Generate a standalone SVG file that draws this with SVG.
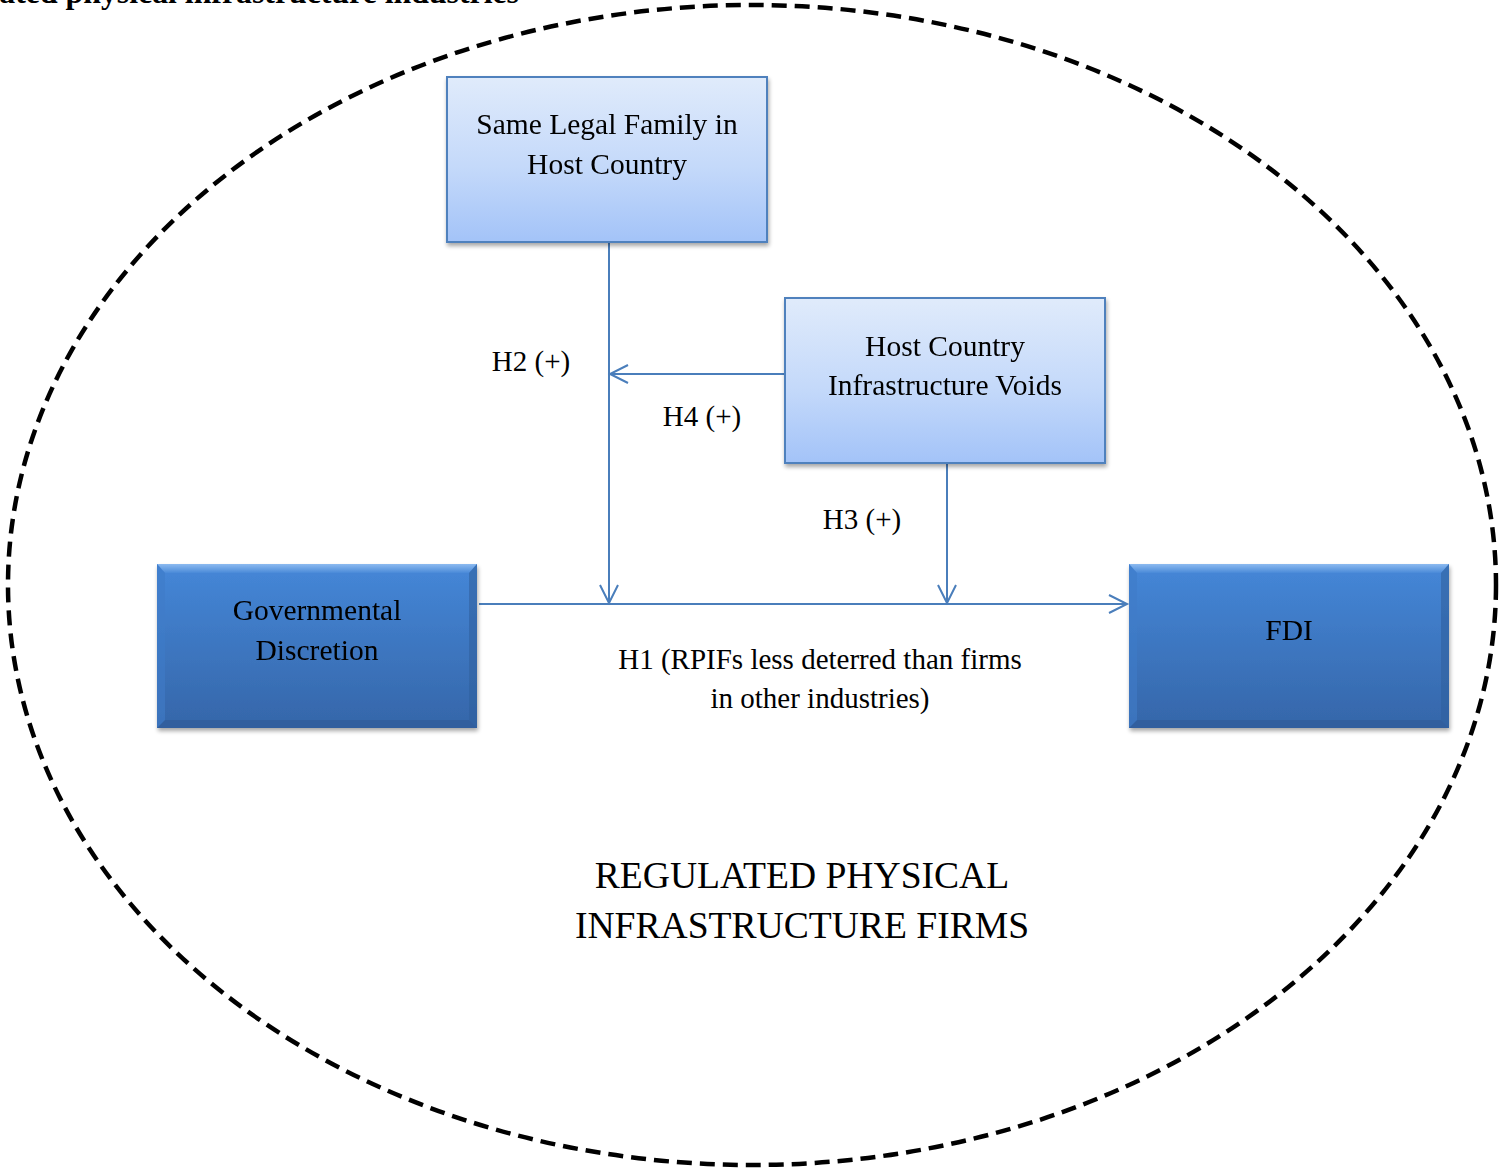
<svg xmlns="http://www.w3.org/2000/svg" width="1501" height="1171" viewBox="0 0 1501 1171">
<style>
.t{font-family:"Liberation Serif","Times New Roman",serif;fill:#000;text-anchor:middle}
.n{font-size:29.5px}
.lab{font-size:29px}
.big{font-size:37.6px}
.light{fill:url(#gl);stroke:#4f81bd;stroke-width:2}
.dark{fill:url(#gd)}
.c{stroke:#4a7ebb;stroke-width:2;fill:none;marker-end:url(#arr)}
</style>
<defs>
<linearGradient id="gl" x1="0" y1="0" x2="0" y2="1">
<stop offset="0" stop-color="#e0ebfb"/><stop offset="0.55" stop-color="#c4d9fa"/><stop offset="1" stop-color="#a3c3f8"/>
</linearGradient>
<linearGradient id="gd" x1="0" y1="0" x2="0" y2="1">
<stop offset="0" stop-color="#4587d8"/><stop offset="1" stop-color="#3566a9"/>
</linearGradient>
<linearGradient id="gt" x1="0" y1="0" x2="0" y2="1">
<stop offset="0" stop-color="#8cbaf0"/><stop offset="1" stop-color="#4a8ad8"/>
</linearGradient>
<filter id="sh" x="-10%" y="-10%" width="120%" height="130%">
<feGaussianBlur in="SourceAlpha" stdDeviation="2"/><feOffset dx="1" dy="3"/>
<feComponentTransfer><feFuncA type="linear" slope="0.35"/></feComponentTransfer>
<feMerge><feMergeNode/><feMergeNode in="SourceGraphic"/></feMerge>
</filter>
<marker id="arr" markerUnits="userSpaceOnUse" markerWidth="24" markerHeight="24" viewBox="-20 -12 24 24" refX="0" refY="0" orient="auto">
<path d="M-18,-9 L0,0 L-18,9" fill="none" stroke="#4a7ebb" stroke-width="2"/>
</marker>
</defs>
<text x="519" y="3" font-family="Liberation Serif, serif" font-weight="bold" font-size="31.8" text-anchor="end">ated physical infrastructure industries</text>
<ellipse cx="752" cy="585" rx="744" ry="580" fill="none" stroke="#000" stroke-width="4.5" stroke-dasharray="15 8"/>
<g id="connectors">
<path class="c" d="M479,604 H1127"/>
<path class="c" d="M609,243 V603"/>
<path class="c" d="M785,374 H610"/>
<path class="c" d="M947,464 V603"/>
</g>
<g id="n-legal" filter="url(#sh)">
<rect class="light" x="447" y="77" width="320" height="165"/>
<text class="t n" x="607" y="134">Same Legal Family in</text>
<text class="t n" x="607" y="174">Host Country</text>
</g>
<g id="n-voids" filter="url(#sh)">
<rect class="light" x="785" y="298" width="320" height="165"/>
<text class="t n" x="945" y="356">Host Country</text>
<text class="t n" x="945" y="395">Infrastructure Voids</text>
</g>
<g id="n-gov" filter="url(#sh)">
<rect class="dark" x="157" y="564" width="320" height="164"/>
<polygon points="157,564 477,564 469,573 165,573" fill="url(#gt)"/>
<polygon points="157,728 477,728 469,720 165,720" fill="#2f5d9b" opacity="0.8"/>
<polygon points="157,564 165,573 165,720 157,728" fill="#3f7cc8" opacity="0.6"/>
<polygon points="477,564 469,573 469,720 477,728" fill="#30609f" opacity="0.6"/>
<text class="t n" x="317" y="620">Governmental</text>
<text class="t n" x="317" y="660">Discretion</text>
</g>
<g id="n-fdi" filter="url(#sh)">
<rect class="dark" x="1129" y="564" width="320" height="164"/>
<polygon points="1129,564 1449,564 1441,573 1137,573" fill="url(#gt)"/>
<polygon points="1129,728 1449,728 1441,720 1137,720" fill="#2f5d9b" opacity="0.8"/>
<polygon points="1129,564 1137,573 1137,720 1129,728" fill="#3f7cc8" opacity="0.6"/>
<polygon points="1449,564 1441,573 1441,720 1449,728" fill="#30609f" opacity="0.6"/>
<text class="t n" x="1289" y="640">FDI</text>
</g>
<g id="labels">
<text class="t lab" x="531" y="371">H2 (+)</text>
<text class="t lab" x="702" y="426">H4 (+)</text>
<text class="t lab" x="862" y="529">H3 (+)</text>
<text class="t lab" x="820" y="669">H1 (RPIFs less deterred than firms</text>
<text class="t lab" x="820" y="708">in other industries)</text>
<text class="t big" x="802" y="888">REGULATED PHYSICAL</text>
<text class="t big" x="802" y="938">INFRASTRUCTURE FIRMS</text>
</g>
</svg>
